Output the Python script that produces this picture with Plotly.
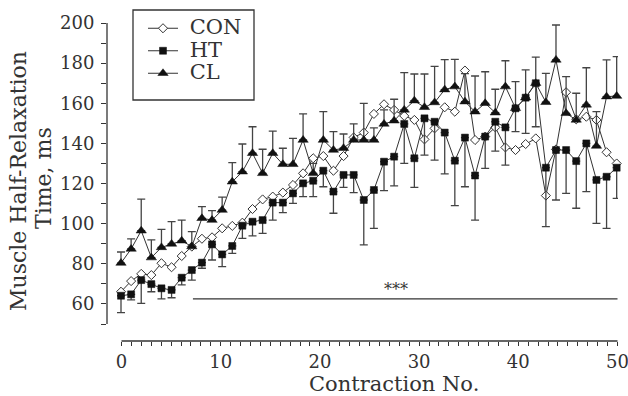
import plotly.graph_objects as go

# ---------------- data ----------------
contraction = list(range(50))

con = [66.1, 71.4, 75.0, 74.4, 80.3, 78.3, 83.9, 88.6, 92.5, 93.2,
       97.7, 98.9, 100.5, 107.3, 112.1, 113.5, 115.5, 119.3, 125.1, 132.6,
       133.7, 126.4, 133.7, 143.0, 145.4, 154.7, 159.5, 156.7, 153.7, 151.7,
       142.0, 147.5, 158.0, 155.8, 176.3, 141.7, 143.4, 148.0, 138.0, 136.7,
       139.7, 142.5, 114.0, 137.0, 165.5, 152.0, 153.3, 151.7, 135.6, 130.0]

ht = [64.1, 64.8, 71.9, 69.9, 67.8, 67.0, 73.1, 76.9, 80.6, 89.7,
      84.7, 88.9, 99.0, 101.0, 101.8, 110.5, 110.5, 115.1, 120.1, 121.4,
      126.4, 116.0, 124.3, 124.3, 111.8, 116.8, 130.9, 133.4, 149.7, 132.6,
      152.5, 150.8, 145.4, 131.4, 142.9, 124.0, 143.4, 150.8, 148.0, 157.5,
      162.8, 170.0, 127.9, 136.7, 136.7, 131.2, 140.0, 121.8, 123.4, 127.9]

ht_err_minus = [8.4, 2.8, 11.6, 3.8, 5.3, 3.9, 3.6, 5.0, 2.8, 7.8,
                6.1, 3.7, 6.3, 7.1, 6.6, 8.7, 5.0, 5.0, 6.6, 7.9,
                8.0, 10.8, 6.2, 8.8, 22.4, 19.1, 14.4, 14.6, 19.6, 14.5,
                18.3, 19.1, 20.6, 22.4, 24.5, 22.2, 15.8, 14.6, 18.8, 11.6,
                17.8, 21.7, 29.4, 24.9, 21.6, 23.5, 24.0, 21.6, 25.7, 15.3]

cl = [80.4, 87.4, 96.5, 83.1, 88.2, 89.9, 91.5, 88.6, 102.7, 101.8,
      106.8, 120.9, 125.9, 135.1, 125.1, 135.1, 129.6, 129.6, 141.7, 125.1,
      141.7, 136.7, 137.6, 141.7, 141.7, 141.7, 149.7, 151.3, 156.7, 161.3,
      158.0, 160.4, 166.8, 168.3, 160.8, 155.8, 160.0, 155.3, 168.3, 157.5,
      162.8, 170.0, 160.5, 181.6, 155.0, 151.7, 159.2, 138.7, 163.3, 163.6]

cl_err_plus = [5.5, 5.0, 15.7, 8.8, 9.0, 11.1, 10.3, 7.4, 5.8, 4.7,
               6.4, 9.5, 13.8, 13.2, 12.0, 11.0, 8.0, 12.9, 13.0, 5.0,
               14.1, 9.2, 7.1, 8.0, 18.3, 6.0, 7.0, 10.7, 18.6, 13.3,
               16.6, 18.0, 15.0, 13.6, 14.0, 17.8, 15.7, 11.7, 12.9, 13.3,
               13.8, 13.0, 14.4, 17.4, 18.3, 13.3, 18.5, 17.1, 18.3, 19.6]

series_names = ["CON", "HT", "CL"]

x_tick_vals = list(range(0, 51))
x_tick_text = ["0", "", "", "", "", "", "", "", "", "", "10", "", "", "", "", "", "", "", "", "", "20",
               "", "", "", "", "", "", "", "", "", "30", "", "", "", "", "", "", "", "", "", "40",
               "", "", "", "", "", "", "", "", "", "50"]
y_tick_vals = list(range(50, 201, 10))
y_tick_text = ["", "60", "", "80", "", "100", "", "120", "", "140", "", "160", "", "180", "", "200"]

sig_x = [7.2, 50]
sig_y = 62.5
sig_label = "***"

x_title = "Contraction No."
y_title_1 = "Muscle Half-Relaxation"
y_title_2 = "Time, ms"

# ---------------- layout helpers ----------------
FONT = "DejaVu Serif"
INK = "#333333"
W, H = 628, 396
L, R, T, B = 107, 10, 23, 55
PW, PH = W - L - R, H - T - B


def px(xp):
    return (xp - L) / PW


def py(yp):
    return (H - B - yp) / PH


def legend_label(s):
    return '<span style="font-size:21px">\u00a0' + s + '</span>'


fig = go.Figure()

fig.add_trace(go.Scatter(
    x=contraction, y=con, name=legend_label(series_names[0]), mode="lines+markers",
    xaxis="x2", yaxis="y", cliponaxis=False,
    line=dict(color=INK, width=1),
    marker=dict(symbol="diamond", size=7, color="white", line=dict(color=INK, width=1)),
))
fig.add_trace(go.Scatter(
    x=contraction, y=ht, name=legend_label(series_names[1]), mode="lines+markers",
    xaxis="x2", yaxis="y", cliponaxis=False,
    line=dict(color=INK, width=1),
    marker=dict(symbol="square", size=7, color="#111111", line=dict(color="#111111", width=0.5)),
    error_y=dict(type="data", symmetric=False, array=[0] * len(ht), arrayminus=ht_err_minus,
                 color="#444444", thickness=1.3, width=4),
))
fig.add_trace(go.Scatter(
    x=contraction, y=cl, name=legend_label(series_names[2]), mode="lines+markers",
    xaxis="x2", yaxis="y", cliponaxis=False,
    line=dict(color=INK, width=1),
    marker=dict(symbol="triangle-up", size=9, color="#111111", line=dict(color="#111111", width=0.5)),
    error_y=dict(type="data", symmetric=False, array=cl_err_plus, arrayminus=[0] * len(cl),
                 color="#444444", thickness=1.3, width=4),
))

# significance bar (on the visible contraction axis)
fig.add_trace(go.Scatter(
    x=sig_x, y=[sig_y, sig_y], mode="lines", xaxis="x", yaxis="y",
    line=dict(color=INK, width=1.3), showlegend=False, hoverinfo="skip",
))

tick_font = dict(family=FONT, size=18, color=INK)

fig.update_layout(
    width=W, height=H,
    margin=dict(l=L, r=R, t=T, b=B, pad=0, autoexpand=False),
    paper_bgcolor="white", plot_bgcolor="white",
    font=dict(family=FONT, color=INK),
    showlegend=True,
    legend=dict(x=px(143), y=py(12), xanchor="left", yanchor="top",
                bgcolor="rgba(0,0,0,0)", borderwidth=0,
                font=dict(family=FONT, size=15, color=INK),
                itemwidth=30, tracegroupgap=0),
    xaxis=dict(range=[-1.462, 50.05], showgrid=False, zeroline=False, showline=False,
               ticks="outside", ticklen=4, tickwidth=1.2, tickcolor=INK,
               tickvals=x_tick_vals, ticktext=x_tick_text, tickfont=tick_font,
               ticklabeloverflow="allow", automargin=False, fixedrange=True),
    xaxis2=dict(range=[-1.384, 49.13], overlaying="x", anchor="y", visible=False, fixedrange=True),
    yaxis=dict(range=[41.55, 200], showgrid=False, zeroline=False, showline=False,
               ticks="outside", ticklen=5, tickwidth=1.2, tickcolor=INK,
               tickvals=y_tick_vals, ticktext=y_tick_text, tickfont=tick_font,
               ticklabelstandoff=3, automargin=False, fixedrange=True),
    shapes=[
        dict(type="line", xref="paper", yref="y", x0=0, x1=0, y0=50, y1=200,
             line=dict(color=INK, width=1.3)),
        dict(type="line", xref="x", yref="paper", x0=0, x1=50, y0=0, y1=0,
             line=dict(color=INK, width=1.3)),
        dict(type="rect", xref="paper", yref="paper", x0=px(133), x1=px(254), y0=py(100), y1=py(10),
             line=dict(color=INK, width=1.3), fillcolor="rgba(0,0,0,0)"),
    ],
    annotations=[
        dict(text=y_title_1, xref="paper", yref="paper", x=px(18), y=py(181), textangle=-90,
             showarrow=False, xanchor="center", yanchor="middle",
             font=dict(family=FONT, size=22, color=INK)),
        dict(text=y_title_2, xref="paper", yref="paper", x=px(43), y=py(178), textangle=-90,
             showarrow=False, xanchor="center", yanchor="middle",
             font=dict(family=FONT, size=22, color=INK)),
        dict(text=x_title, xref="paper", yref="paper", x=px(394), y=py(384),
             showarrow=False, xanchor="center", yanchor="middle",
             font=dict(family=FONT, size=21, color=INK)),
        dict(text=sig_label, xref="paper", yref="y", x=px(396), y=sig_y - 1,
             showarrow=False, xanchor="center", yanchor="bottom",
             font=dict(family=FONT, size=16, color=INK)),
    ],
)

fig.write_html("out.html")
